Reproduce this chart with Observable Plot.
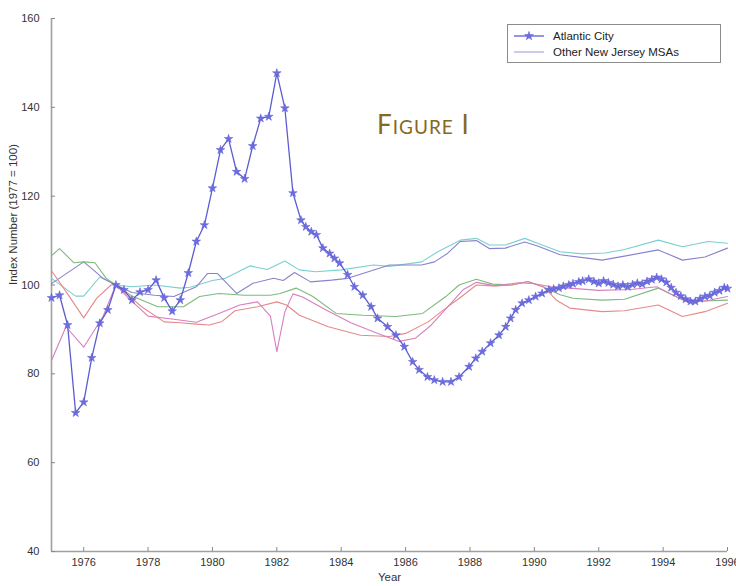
<!DOCTYPE html>
<html><head><meta charset="utf-8">
<script src="https://cdn.jsdelivr.net/npm/d3@7"></script>
<script src="https://cdn.jsdelivr.net/npm/@observablehq/plot@0.6"></script>
<style>
html,body{margin:0;padding:0;background:#fff;}
#wrap{position:relative;width:736px;height:586px;font-family:"Liberation Sans",Arial,sans-serif;}
#legend{position:absolute;left:507px;top:24px;width:214px;height:39px;border:1px solid #8c8c8c;background:#fff;box-sizing:border-box;font-size:11.5px;color:#222;}
#legend .row{position:absolute;left:5px;height:14px;display:flex;align-items:center;}
#legend svg{margin-right:8px;}
#fig{position:absolute;left:377px;top:111px;font-family:Lato,"Open Sans",sans-serif;color:#86691d;font-size:26px;line-height:26px;letter-spacing:1px;white-space:nowrap;}
#fig .sc{font-size:19px;}
</style></head><body>
<div id="wrap"><div id="chart"></div>
<div id="fig">F<span class="sc">IGURE</span> I</div>
<div id="legend"></div>
</div>
<script>
// ---- data (year, index value) ----
const xTicks = [1976,1978,1980,1982,1984,1986,1988,1990,1992,1994,1996];
const yTicks = [40,60,80,100,120,140,160];
const seriesNames = ["Atlantic City","Other New Jersey MSAs"];

const atlanticCity = [
[1975.0,97.1],[1975.25,97.7],[1975.5,91.0],[1975.75,71.2],[1976.0,73.6],[1976.25,83.6],[1976.5,91.4],[1976.75,94.4],
[1977.0,100],[1977.25,98.9],[1977.5,96.6],[1977.75,98.4],[1978.0,98.9],[1978.25,101.1],[1978.5,97.1],[1978.75,94.1],
[1979.0,96.6],[1979.25,102.7],[1979.5,109.8],[1979.75,113.5],[1980.0,121.8],[1980.25,130.4],[1980.5,132.9],[1980.75,125.5],
[1981.0,123.9],[1981.25,131.3],[1981.5,137.5],[1981.75,137.9],[1982.0,147.7],[1982.25,139.8],[1982.5,120.7],[1982.75,114.6],
[1982.9,113.1],[1983.07,112],[1983.23,111.3],[1983.43,108.3],[1983.64,107.1],[1983.79,106],[1983.95,104.9],[1984.2,102.3],
[1984.41,99.6],[1984.67,97.7],[1984.93,95.1],[1985.13,92.5],[1985.44,90.6],[1985.7,88.7],[1985.96,86.1],[1986.22,82.7],
[1986.42,80.9],[1986.68,79.3],[1986.89,78.6],[1987.15,78.2],[1987.41,78.2],[1987.66,79.3],[1987.97,81.6],[1988.18,83.5],
[1988.38,85],[1988.64,86.9],[1988.9,88.7],[1989.11,90.6],[1989.26,92.5],[1989.42,94.4],[1989.62,95.9],[1989.83,96.6],
[1990.04,97.4],[1990.24,98.1],[1990.45,98.9],[1990.6,99.1],[1990.76,99.3],[1990.9,99.7],[1991.07,100],[1991.2,100.3],
[1991.38,100.7],[1991.5,100.9],[1991.69,101.3],[1991.85,100.8],[1992.0,100.4],[1992.15,100.9],[1992.3,100.5],[1992.45,100.1],
[1992.6,99.7],[1992.75,100.0],[1992.9,99.6],[1993.05,100.1],[1993.2,100.4],[1993.35,100.2],[1993.5,100.8],[1993.65,101.2],
[1993.8,101.7],[1993.95,101.3],[1994.1,100.6],[1994.25,99.4],[1994.4,98.3],[1994.55,97.5],[1994.7,96.8],[1994.85,96.3],
[1995.0,96.3],[1995.15,96.9],[1995.3,97.4],[1995.45,97.6],[1995.6,98.3],[1995.75,98.7],[1995.9,99.4],[1996.0,99.2]
];

const msaCyan = [
[1975,101.5],[1975.75,97.5],[1976,97.5],[1976.5,101.8],[1977,100],[1977.5,99.6],[1978.2,100],[1979,99.3],[1979.3,99.5],
[1980,101],[1980.4,101.5],[1981.16,104.3],[1981.7,103.5],[1982.25,105.4],[1982.7,103.4],[1983.2,103],[1984,103.4],
[1985,104.5],[1985.5,104.2],[1986.5,105.2],[1987,107.5],[1987.7,110.1],[1988.2,110.5],[1988.6,109],[1989.1,109],
[1989.7,110.5],[1990.1,109.4],[1990.8,107.5],[1991.5,107],[1992.2,107.2],[1992.8,108],[1993.85,110.1],[1994.6,108.6],
[1995.4,109.8],[1996,109.4]
];
const msaPurple = [
[1975,100.3],[1976,105.2],[1976.3,103.4],[1976.6,101.5],[1977,100],[1977.5,98.3],[1978.2,97.7],[1978.8,97.4],[1979.5,99.6],
[1979.85,102.6],[1980.15,102.6],[1980.75,98.1],[1981.26,100.4],[1981.9,101.5],[1982.2,101],[1982.55,102.8],[1983.05,100.7],
[1983.7,101.1],[1984.2,101.5],[1984.67,102.6],[1985.5,104.5],[1986.5,104.5],[1986.9,105.2],[1987.3,107.1],[1987.7,109.8],
[1988.2,110],[1988.6,108.2],[1989.1,108.3],[1989.7,109.7],[1990.1,108.8],[1990.8,106.8],[1991.7,106],[1992.1,105.6],
[1992.8,106.5],[1993.85,107.9],[1994.6,105.6],[1995.3,106.3],[1996,108.3]
];
const msaGreen = [
[1975,106.6],[1975.25,108.2],[1975.7,105],[1976,105.2],[1976.35,105],[1976.7,101.5],[1977,100],[1977.5,97.5],[1978.3,95.1],
[1979.1,95.1],[1979.6,97.4],[1980.2,98.1],[1981,97.7],[1981.8,97.7],[1982.1,98.1],[1982.6,99.3],[1983.12,97.4],[1983.84,93.6],
[1984.67,93.2],[1985.7,92.9],[1986.53,93.6],[1987.25,97.4],[1987.66,100],[1988.2,101.3],[1988.7,100.2],[1989.3,100],
[1989.8,100.8],[1990.3,99.5],[1990.8,97.8],[1991.2,97],[1992.1,96.6],[1992.8,96.8],[1993.85,99.3],[1994.6,96.7],
[1995.3,96.4],[1996,96.6]
];
const msaRed = [
[1975,103.2],[1975.5,98],[1976,92.6],[1976.4,97],[1976.85,100],[1977,100],[1977.5,97],[1977.8,95.1],[1978.5,91.7],[1979,91.5],
[1979.5,91.2],[1979.9,91],[1980.3,91.8],[1980.7,94.2],[1981.4,95.1],[1982,96.2],[1982.3,95.5],[1982.7,93.2],[1983.6,90.6],
[1984.6,88.7],[1985.5,88.4],[1986,89.1],[1986.7,91.7],[1987.2,94.5],[1987.7,97.2],[1988.2,100],[1988.7,99.8],[1989.3,100],
[1989.8,100.8],[1990.3,99.5],[1990.7,96.5],[1991.1,94.8],[1992.1,94],[1992.8,94.2],[1993.85,95.5],[1994.6,92.9],
[1995.3,94],[1996,95.9]
];
const msaMagenta = [
[1975,83],[1975.45,90.6],[1976,86],[1976.6,92.9],[1977,100],[1977.4,97],[1978,93],[1978.8,92.3],[1979.5,91.6],[1980.2,93.6],
[1980.85,95.5],[1981.4,96.2],[1981.8,93],[1982,85],[1982.25,94],[1982.5,98],[1982.8,97.3],[1983.5,94.5],[1984.3,91.5],
[1985,89.5],[1985.8,87.3],[1986.3,88],[1986.8,91],[1987.3,95],[1987.8,99],[1988.2,100.6],[1988.8,99.8],[1989.5,100.5],
[1990,100.3],[1990.6,99.5],[1991.1,99.3],[1992,98.8],[1993,99],[1993.8,99.6],[1994.2,98.1],[1994.8,96],[1995.4,96.5],
[1996,97.4]
];

const msaLines = [
  {data: msaCyan, color: "#7ccfcf"},
  {data: msaPurple, color: "#8884cc"},
  {data: msaGreen, color: "#7dba7d"},
  {data: msaRed, color: "#e58a8a"},
  {data: msaMagenta, color: "#d77fbf"}
];
const acColor = "#5c5cd2";
const acFill = "#6d6de0";

const font = "Liberation Sans, Arial, sans-serif";
const marks = [
  Plot.ruleX([1975], {stroke: "#a0a0a0", strokeWidth: 1.6}),
  Plot.ruleY([40], {stroke: "#a0a0a0", strokeWidth: 1.6}),
  Plot.axisX({ticks: xTicks, tickSize: -4, tickPadding: 11, tickFormat: d => String(d), label: null, stroke: "#888", fill: "#333", fontSize: 11}),
  Plot.axisY({ticks: yTicks, tickSize: -4, tickPadding: 16, label: null, stroke: "#888", fill: "#333", fontSize: 11}),
  Plot.text(["Year"], {frameAnchor: "bottom", dy: 29, text: d => d, fill: "#333", fontSize: 11.5}),
  Plot.text(["Index Number (1977 = 100)"], {frameAnchor: "left", dx: -38, rotate: -90, text: d => d, fill: "#333", fontSize: 11.5})
];
for (const s of msaLines) {
  marks.push(Plot.line(s.data, {x: d => d[0], y: d => d[1], stroke: s.color, strokeWidth: 1.1}));
}
marks.push(Plot.line(atlanticCity, {x: d => d[0], y: d => d[1], stroke: acColor, strokeWidth: 1.3}));
marks.push(Plot.dot(atlanticCity, {x: d => d[0], y: d => d[1], symbol: "star", r: 2.7, fill: acFill, stroke: acColor, strokeWidth: 0.5}));

const chart = Plot.plot({
  width: 736, height: 586,
  marginLeft: 51, marginRight: 9, marginTop: 18, marginBottom: 35,
  style: {fontFamily: font, background: "white", overflow: "visible"},
  x: {domain: [1975, 1996]},
  y: {domain: [40, 160]},
  marks
});
document.getElementById("chart").appendChild(chart);

// legend
const leg = document.getElementById("legend");
const starPath = d3.symbol(d3.symbolStar, 24)();
const legColors = [acColor, "#b3acdf"];
seriesNames.forEach((name, i) => {
  const row = document.createElement("div");
  row.className = "row";
  row.style.top = (i === 0 ? 4 : 19.5) + "px";
  const ns = "http://www.w3.org/2000/svg";
  const svg = document.createElementNS(ns, "svg");
  svg.setAttribute("width", 32); svg.setAttribute("height", 12);
  const ln = document.createElementNS(ns, "line");
  ln.setAttribute("x1", 1); ln.setAttribute("x2", 31); ln.setAttribute("y1", 6); ln.setAttribute("y2", 6);
  ln.setAttribute("stroke", legColors[i]); ln.setAttribute("stroke-width", 1.3);
  svg.appendChild(ln);
  if (i === 0) {
    const p = document.createElementNS(ns, "path");
    p.setAttribute("d", starPath); p.setAttribute("transform", "translate(16,6)");
    p.setAttribute("fill", acFill); p.setAttribute("stroke", acColor); p.setAttribute("stroke-width", 0.5);
    svg.appendChild(p);
  }
  row.appendChild(svg);
  const t = document.createElement("span");
  t.textContent = name;
  row.appendChild(t);
  leg.appendChild(row);
});
</script>
</body></html>
